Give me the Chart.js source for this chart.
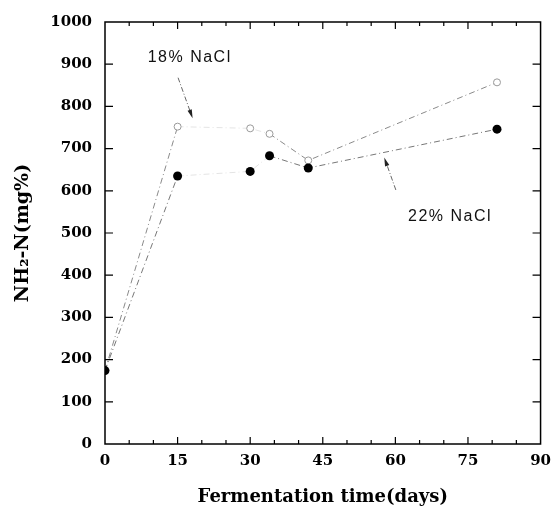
<!DOCTYPE html>
<html>
<head>
<meta charset="utf-8">
<script src="https://cdn.jsdelivr.net/npm/chart.js@4.4.1/dist/chart.umd.min.js"></script>
<style>
  html, body { margin: 0; padding: 0; background: #fff; }
  #wrap { width: 559px; height: 513px; }
</style>
</head>
<body>
<div id="wrap"><canvas id="nh2-chart"></canvas></div>
<script>
// values
const days = [0, 15, 30, 34, 42, 81];
const nacl18 = [174, 752, 748, 735, 672, 857];
const nacl22 = [174, 635, 646, 683, 654, 746];
const xLabels = [0, 15, 30, 45, 60, 75, 90];
const yLabels = [0, 100, 200, 300, 400, 500, 600, 700, 800, 900, 1000];

// text notes with arrows, placed in data units
const notes = [
    { text: '18% NaCl', x: 17.5, y: 915, from: [15.1, 868], to: [18.1, 772] },
    { text: '22% NaCl', x: 71.3, y: 540, from: [60.1, 602], to: [57.7, 679] },
];

const serif = '"DejaVu Serif", "Liberation Serif", serif';

const toPoints = (xs, ys) => xs.map((d, i) => ({ x: d, y: ys[i] }));

// lines between 15 and 34 days are barely visible in the print
const faintSeg = ctx => (ctx.p0.parsed.x >= 15 && ctx.p1.parsed.x <= 34) ? '#e4e4e4' : undefined;

const frameTicks = {
    id: 'frameTicks',
    afterDraw(chart) {
        const { ctx, chartArea: a, scales: { x, y } } = chart;
        ctx.save();
        ctx.strokeStyle = '#000';
        ctx.lineWidth = 1.5;
        ctx.strokeRect(a.left, a.top, a.right - a.left, a.bottom - a.top);
        ctx.lineWidth = 1.2;
        ctx.beginPath();
        for (let d = 5; d < 90; d += 5) {
            const px = x.getPixelForValue(d);
            const len = d % 15 === 0 ? 7 : 4;
            ctx.moveTo(px, a.bottom); ctx.lineTo(px, a.bottom - len);
            ctx.moveTo(px, a.top); ctx.lineTo(px, a.top + len);
        }
        yLabels.slice(1, -1).forEach(v => {
            const py = y.getPixelForValue(v);
            ctx.moveTo(a.left, py); ctx.lineTo(a.left + 8, py);
            ctx.moveTo(a.right, py); ctx.lineTo(a.right - 8, py);
        });
        ctx.stroke();
        ctx.restore();
    }
};

const arrowNotes = {
    id: 'arrowNotes',
    afterDatasetsDraw(chart) {
        const { ctx, scales: { x, y } } = chart;
        ctx.save();
        notes.forEach(n => {
            ctx.font = '16px "Liberation Sans", Arial, sans-serif';
            ctx.fillStyle = '#111';
            ctx.textAlign = 'center';
            ctx.textBaseline = 'middle';
            ctx.letterSpacing = '1.5px';
            ctx.fillText(n.text, x.getPixelForValue(n.x), y.getPixelForValue(n.y));
            const x0 = x.getPixelForValue(n.from[0]), y0 = y.getPixelForValue(n.from[1]);
            const x1 = x.getPixelForValue(n.to[0]), y1 = y.getPixelForValue(n.to[1]);
            const ang = Math.atan2(y1 - y0, x1 - x0);
            ctx.strokeStyle = '#666';
            ctx.lineWidth = 1;
            ctx.setLineDash([5, 2, 1, 2]);
            ctx.beginPath();
            ctx.moveTo(x0, y0);
            ctx.lineTo(x1 - 6 * Math.cos(ang), y1 - 6 * Math.sin(ang));
            ctx.stroke();
            ctx.setLineDash([]);
            ctx.fillStyle = '#222';
            ctx.beginPath();
            ctx.moveTo(x1, y1);
            ctx.lineTo(x1 - 9 * Math.cos(ang - 0.25), y1 - 9 * Math.sin(ang - 0.25));
            ctx.lineTo(x1 - 9 * Math.cos(ang + 0.25), y1 - 9 * Math.sin(ang + 0.25));
            ctx.closePath();
            ctx.fill();
        });
        ctx.restore();
    }
};

new Chart(document.getElementById('nh2-chart'), {
    type: 'line',
    data: {
        datasets: [
            {
                label: '22% NaCl',
                data: toPoints(days, nacl22),
                borderColor: '#777',
                borderWidth: 1,
                borderDash: [6, 3, 1, 3],
                segment: { borderColor: faintSeg },
                pointStyle: 'circle',
                pointRadius: 4.5,
                pointBorderWidth: 0,
                pointBackgroundColor: '#000',
                tension: 0,
            },
            {
                label: '18% NaCl',
                data: toPoints(days, nacl18),
                borderColor: '#8a8a8a',
                borderWidth: 1,
                borderDash: [6, 3, 1, 3],
                segment: { borderColor: faintSeg },
                pointStyle: 'circle',
                pointRadius: 3.5,
                pointBorderWidth: 1,
                pointBorderColor: '#9a9a9a',
                pointBackgroundColor: '#fff',
                tension: 0,
            },
        ],
    },
    options: {
        responsive: true,
        maintainAspectRatio: false,
        animation: false,
        layout: { padding: { left: 0, right: 18, top: 13, bottom: 0 } },
        plugins: {
            legend: { display: false },
            tooltip: { enabled: false },
        },
        scales: {
            x: {
                type: 'linear',
                min: 0,
                max: 90,
                afterFit: s => { s.height = 69; },
                afterBuildTicks: s => { s.ticks = xLabels.map(v => ({ value: v })); },
                grid: { display: false, drawTicks: false },
                border: { display: false },
                ticks: {
                    color: '#000',
                    padding: 8,
                    maxRotation: 0,
                    callback: v => String(v),
                    font: { family: serif, size: 15, weight: 'bold' },
                },
                title: {
                    display: true,
                    text: 'Fermentation time(days)',
                    color: '#000',
                    padding: { top: 0, bottom: 5 },
                    font: { family: serif, size: 18, weight: 'bold' },
                },
            },
            y: {
                min: 0,
                max: 1000,
                afterFit: s => { s.width = 105; },
                afterBuildTicks: s => { s.ticks = yLabels.map(v => ({ value: v })); },
                grid: { display: false, drawTicks: false },
                border: { display: false },
                ticks: {
                    color: '#000',
                    padding: 13,
                    callback: v => String(v),
                    font: { family: serif, size: 15, weight: 'bold' },
                },
                title: {
                    display: true,
                    text: 'NH₂-N(mg%)',
                    color: '#000',
                    padding: { top: 12, bottom: 0 },
                    font: { family: serif, size: 19, weight: 'bold' },
                },
            },
        },
    },
    plugins: [frameTicks, arrowNotes],
});
</script>
</body>
</html>
